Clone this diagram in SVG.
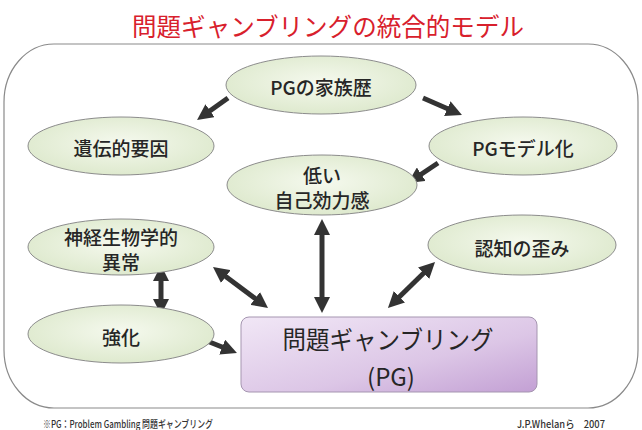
<svg xmlns="http://www.w3.org/2000/svg" width="642" height="430" viewBox="0 0 642 430">
<style>
.t{font-family:"Noto Sans CJK JP","Noto Sans",sans-serif;fill:#262626;dominant-baseline:central;text-anchor:middle}
.n{font-size:19px;font-weight:500}
.e{fill:url(#gE);stroke:#8c8c8c;stroke-width:1}
.a{stroke:#333;stroke-width:5;fill:none}
.ae{marker-end:url(#ah)}
.ad{marker-start:url(#ah);marker-end:url(#ah)}
</style>
<defs>
<radialGradient id="gE" cx="50%" cy="45%" r="60%">
<stop offset="0" stop-color="#f5f9ee"/>
<stop offset="1" stop-color="#dce8cb"/>
</radialGradient>
<linearGradient id="gP" x1="0" y1="0" x2="1" y2="1">
<stop offset="0" stop-color="#f1e7f6"/>
<stop offset="0.6" stop-color="#dcc6e6"/>
<stop offset="1" stop-color="#c3a0d4"/>
</linearGradient>
<marker id="ah" viewBox="0 0 16 16" refX="6" refY="8" markerWidth="16" markerHeight="16" markerUnits="userSpaceOnUse" orient="auto-start-reverse">
<path d="M0,0 L16,8 L0,16 z" fill="#333"/>
</marker>
</defs>
<rect width="642" height="430" fill="#fff"/>
<text x="328" y="25" font-family="'Noto Sans CJK JP',sans-serif" font-size="25" fill="#d8202c" text-anchor="middle" dominant-baseline="central" textLength="392" lengthAdjust="spacingAndGlyphs">問題ギャンブリングの統合的モデル</text>
<rect x="4" y="44" width="634" height="364" rx="50" ry="58" fill="#fff" stroke="#8a8a8a" stroke-width="1.2"/>

<g id="connectors">
<line class="a ae" x1="228" y1="98" x2="205.2" y2="114.2"/>
<line class="a ae" x1="423" y1="98" x2="452.8" y2="111"/>
<line class="a ae" x1="438" y1="163" x2="416.3" y2="177.5"/>
<line class="a ad" x1="322" y1="229" x2="322" y2="303"/>
<line class="a ad" x1="221" y1="273" x2="260" y2="302"/>
<line class="a ad" x1="161" y1="275" x2="161" y2="305"/>
<line class="a ad" x1="427.9" y1="269" x2="395.1" y2="301"/>
<line class="a ae" x1="197" y1="337" x2="227.7" y2="349.3"/>
</g>

<g id="family">
<ellipse class="e" cx="321" cy="85" rx="95" ry="29"/>
<text class="t n" x="321" y="86">PGの家族歴</text>
</g>
<g id="genetic">
<ellipse class="e" cx="121" cy="146" rx="93" ry="29"/>
<text class="t n" x="121" y="147">遺伝的要因</text>
</g>
<g id="modeling">
<ellipse class="e" cx="523" cy="146" rx="94" ry="29"/>
<text class="t n" x="523" y="147">PGモデル化</text>
</g>
<g id="selfefficacy">
<ellipse class="e" cx="322" cy="185" rx="95" ry="30"/>
<text class="t n" x="322" y="174">低い</text>
<text class="t n" x="322" y="199">自己効力感</text>
</g>
<g id="neuro">
<ellipse class="e" cx="121" cy="247" rx="93" ry="28"/>
<text class="t n" x="121" y="236">神経生物学的</text>
<text class="t n" x="121" y="261">異常</text>
</g>
<g id="cognitive">
<ellipse class="e" cx="522" cy="245" rx="94" ry="30"/>
<text class="t n" x="522" y="247">認知の歪み</text>
</g>
<g id="reinforce">
<ellipse class="e" cx="121" cy="334" rx="93" ry="29"/>
<text class="t n" x="121" y="336">強化</text>
</g>
<g id="pg">
<rect x="241" y="317" width="296" height="75" rx="8" fill="url(#gP)" stroke="#a595b0" stroke-width="1"/>
<text class="t" x="388" y="338" font-size="25" textLength="211" lengthAdjust="spacingAndGlyphs">問題ギャンブリング</text>
<text class="t" x="391" y="375" font-size="24">(PG)</text>
</g>

<text x="43" y="423" font-family="'Noto Sans CJK JP',sans-serif" font-size="10.5" font-weight="500" fill="#333" dominant-baseline="central" textLength="170" lengthAdjust="spacingAndGlyphs">※PG：Problem Gambling 問題ギャンブリング</text>
<text x="517" y="423" font-family="'Noto Sans CJK JP',sans-serif" font-size="10.5" font-weight="500" fill="#333" dominant-baseline="central" textLength="88" lengthAdjust="spacingAndGlyphs">J.P.Whelanら　2007</text>
</svg>
